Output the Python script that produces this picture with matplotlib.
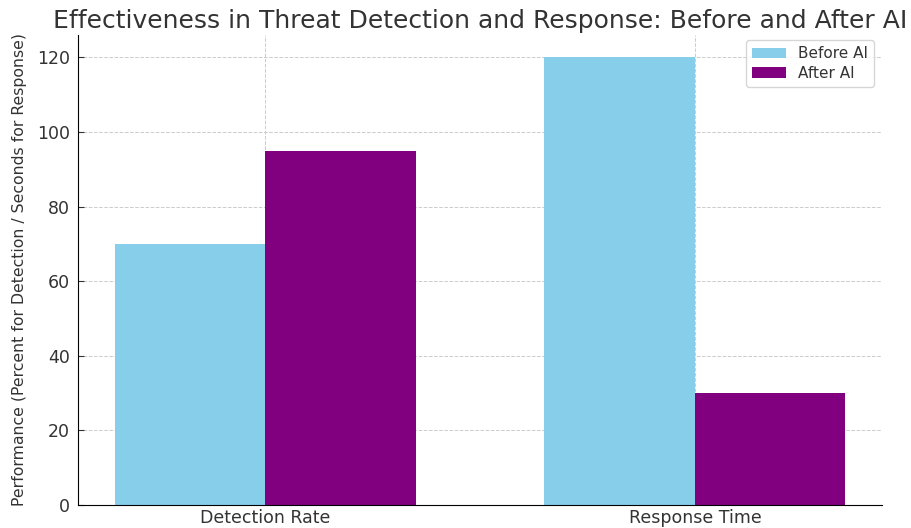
import numpy as np
import matplotlib
matplotlib.use("Agg")
import matplotlib.pyplot as plt

categories = ["Detection Rate", "Response Time"]
before_ai = [70, 120]
after_ai = [95, 30]
series_labels = ["Before AI", "After AI"]

plt.rcParams["font.family"] = ["DejaVu Sans"]
plt.rcParams["text.color"] = "#333333"
plt.rcParams["axes.labelcolor"] = "#333333"
plt.rcParams["xtick.color"] = "#333333"
plt.rcParams["ytick.color"] = "#333333"

fig = plt.figure(figsize=(9.12, 5.28), dpi=100)
ax = fig.add_axes([78 / 912, 23 / 528, 804 / 912, 470 / 528])

x = np.arange(len(categories))
width = 0.35
ax.bar(x - width / 2, before_ai, width, color="skyblue", label=series_labels[0])
ax.bar(x + width / 2, after_ai, width, color="purple", label=series_labels[1])

ax.set_xticks(x)
ax.set_xticklabels(categories, fontsize=12.5)
ax.tick_params(axis="x", length=0, pad=3)
ax.tick_params(axis="y", labelsize=12.5, direction="in", length=4, pad=6)
ax.set_ylabel("Performance (Percent for Detection / Seconds for Response)",
              fontsize=11.3, labelpad=7)
ax.set_title("Effectiveness in Threat Detection and Response: Before and After AI",
             fontsize=18, pad=5)
ax.grid(True, linestyle="--", color="#cccccc", linewidth=0.7)
ax.set_axisbelow(True)
for side in ("top", "right"):
    ax.spines[side].set_visible(False)
ax.legend(loc="upper right", fontsize=11, labelspacing=0.3,
          handlelength=2.2, borderpad=0.4, bbox_to_anchor=(1.0, 1.005))

fig.savefig("out.png", dpi=100)
